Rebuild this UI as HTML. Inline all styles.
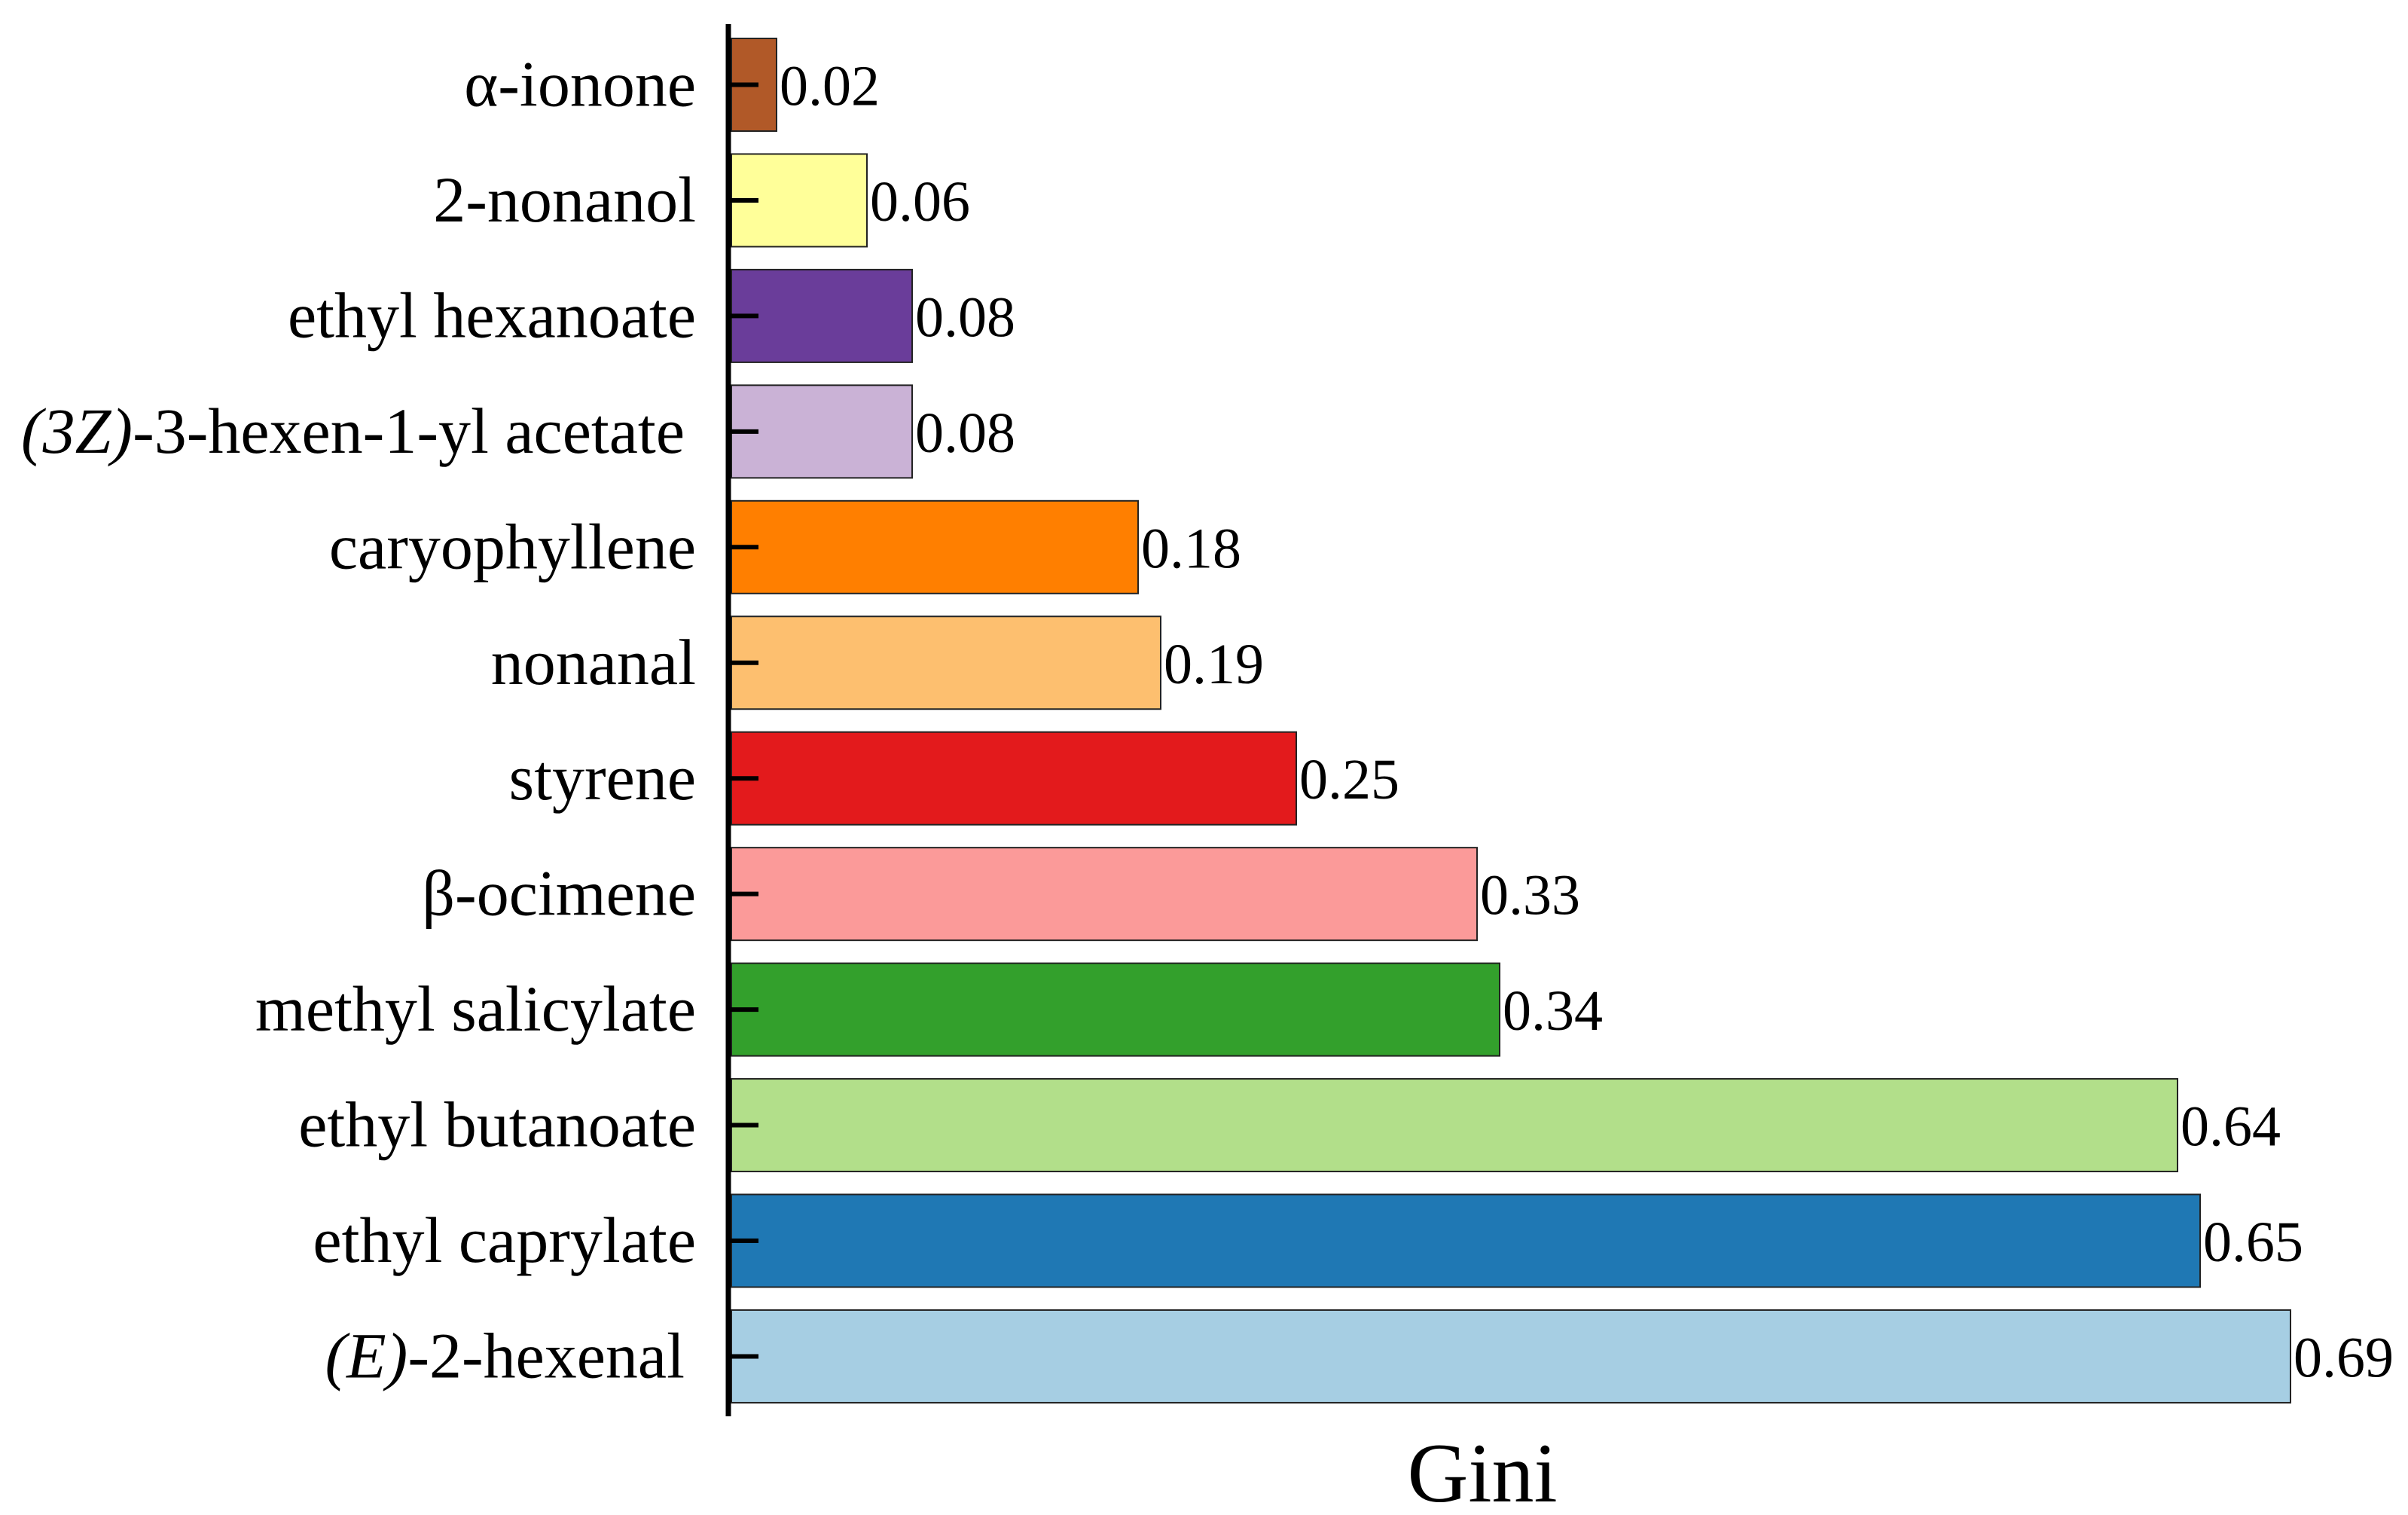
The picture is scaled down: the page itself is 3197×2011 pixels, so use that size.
<!DOCTYPE html>
<html><head><meta charset="utf-8"><style>html,body{margin:0;padding:0;background:#fff}svg{display:block}</style></head>
<body>
<svg id="chart" width="3197" height="2011" viewBox="0 0 3197 2011" xmlns="http://www.w3.org/2000/svg" font-family="'Liberation Serif', serif">
<g id="bars"></g>
<g id="labels"></g>
<line x1="967" y1="32" x2="967" y2="1880" stroke="#000" stroke-width="7"/>
<text x="1968" y="1993" font-size="112" text-anchor="middle">Gini</text>
</svg>
<script>
const categories = ["α-ionone","2-nonanol","ethyl hexanoate","(3Z)-3-hexen-1-yl acetate","caryophyllene","nonanal","styrene","β-ocimene","methyl salicylate","ethyl butanoate","ethyl caprylate","(E)-2-hexenal"];
const values = [0.02,0.06,0.08,0.08,0.18,0.19,0.25,0.33,0.34,0.64,0.65,0.69];
const valueLabels = ["0.02","0.06","0.08","0.08","0.18","0.19","0.25","0.33","0.34","0.64","0.65","0.69"];
const colors = ["#b15928","#ffff99","#6a3d9a","#cab2d6","#ff7f00","#fdbf6f","#e31a1c","#fb9a99","#33a02c","#b2df8a","#1f78b4","#a6cee3"];

const NS="http://www.w3.org/2000/svg";
const x0=971, pxPerUnit=3000, top0=51, pitch=153.45, barH=123;
function xScale(v){return x0+v*pxPerUnit;}
function yBand(i){return top0+i*pitch;}
const bars=document.getElementById('bars'), labs=document.getElementById('labels');
categories.forEach((c,i)=>{
  const y=yBand(i), cy=y+barH/2;
  const r=document.createElementNS(NS,'rect');
  
  
  r.setAttribute('x',x0);r.setAttribute('y',y);
  r.setAttribute('width',xScale(values[i])-x0);r.setAttribute('height',barH);
  r.setAttribute('fill',colors[i]);r.setAttribute('stroke','#222');r.setAttribute('stroke-width','2');
  bars.appendChild(r);
  const tk=document.createElementNS(NS,'line');
  
  
  tk.setAttribute('x1',967);tk.setAttribute('x2',1007);tk.setAttribute('y1',cy);tk.setAttribute('y2',cy);
  tk.setAttribute('stroke','#000');tk.setAttribute('stroke-width','6');
  labs.appendChild(tk);
  const vt=document.createElementNS(NS,'text');
  
  
  vt.setAttribute('x',xScale(values[i])+4);vt.setAttribute('y',cy+27);
  vt.setAttribute('font-size','76');
  vt.textContent=valueLabels[i];
  labs.appendChild(vt);
  const t=document.createElementNS(NS,'text');
  
  
  t.setAttribute('text-anchor','end');t.setAttribute('font-size','86');
  t.setAttribute('y',cy+28);
  const m=c.match(/^\((.*?)\)(.*)$/);
  if(m){
    t.setAttribute('x',909);
    const a=document.createElementNS(NS,'tspan');a.setAttribute('font-style','italic');a.textContent='('+m[1]+')';
    t.appendChild(a);t.appendChild(document.createTextNode(m[2]));
  } else {
    t.setAttribute('x',924);t.textContent=c;
  }
  labs.appendChild(t);
});
</script>
</body></html>
